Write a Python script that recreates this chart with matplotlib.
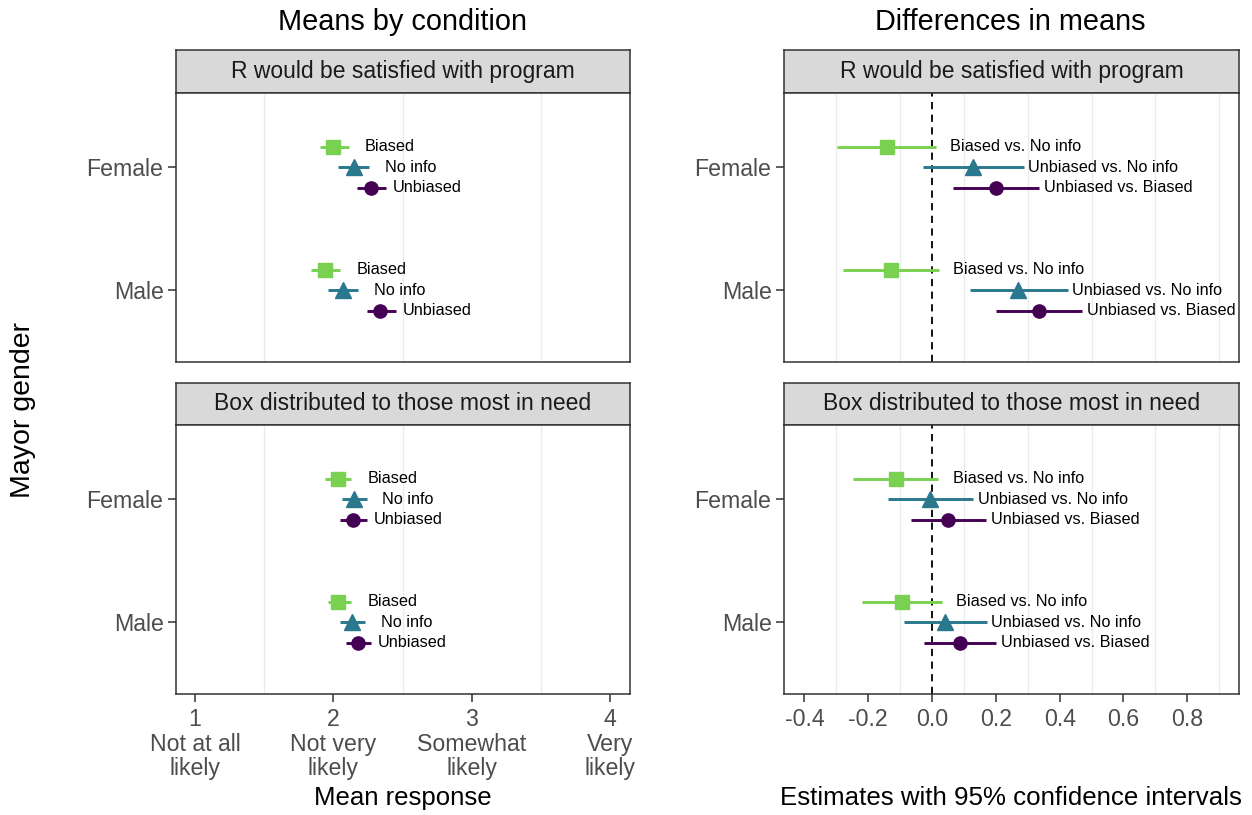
import matplotlib
matplotlib.use("Agg")
import matplotlib.pyplot as plt
import numpy as np

plt.rcParams['font.family'] = ['Liberation Sans', 'DejaVu Sans']

# categories
conditions = ["Biased", "No info", "Unbiased"]
contrasts = ["Biased vs. No info", "Unbiased vs. No info", "Unbiased vs. Biased"]
genders = ["Female", "Male"]
outcomes = ["R would be satisfied with program", "Box distributed to those most in need"]
colors = ["#7AD151", "#2A788E", "#440154"]
markers = ["s", "^", "o"]

# means by condition, rows = Female, Male
sat_mean = [[2.00, 2.147, 2.275], [1.94, 2.07, 2.34]]
sat_lo = [[1.90, 2.03, 2.17], [1.84, 1.96, 2.24]]
sat_hi = [[2.11, 2.26, 2.38], [2.05, 2.18, 2.45]]
box_mean = [[2.034, 2.15, 2.145], [2.036, 2.135, 2.177]]
box_lo = [[1.94, 2.06, 2.05], [1.96, 2.05, 2.09]]
box_hi = [[2.13, 2.24, 2.24], [2.125, 2.23, 2.27]]

# differences in means
sat_est = [[-0.142, 0.128, 0.2015], [-0.128, 0.27, 0.335]]
sat_est_lo = [[-0.297, -0.029, 0.066], [-0.278, 0.12, 0.2015]]
sat_est_hi = [[0.013, 0.287, 0.335], [0.022, 0.425, 0.469]]
box_est = [[-0.114, -0.006, 0.051], [-0.094, 0.040, 0.088]]
box_est_lo = [[-0.248, -0.139, -0.066], [-0.218, -0.088, -0.026]]
box_est_hi = [[0.02, 0.128, 0.169], [0.031, 0.171, 0.20]]

left_ticks = [1, 2, 3, 4]
left_ticklabels = ["1\nNot at all\nlikely", "2\nNot very\nlikely", "3\nSomewhat\nlikely", "4\nVery\nlikely"]
right_ticks = [-0.4, -0.2, 0.0, 0.2, 0.4, 0.6, 0.8]

W, H = 1252, 815
fig = plt.figure(figsize=(W / 100, H / 100), dpi=100)

DARK = "#333333"
TICKC = "#4D4D4D"
gender_y = [2, 1]
dodge = [0.167, 0, -0.167]


def px_axes(x0, y0, x1, y1):
    # pixel box (top-left origin) -> figure axes
    return fig.add_axes([x0 / W, 1 - y1 / H, (x1 - x0) / W, (y1 - y0) / H])


def add_strip(x0, x1, y0, y1, text):
    s = px_axes(x0, y0, x1, y1)
    s.set_facecolor("#D9D9D9")
    s.set_xticks([])
    s.set_yticks([])
    for sp in s.spines.values():
        sp.set_color(DARK)
        sp.set_linewidth(1.1)
    s.text(0.5, 0.5, text, ha="center", va="center", fontsize=16.5, color="#1A1A1A",
           transform=s.transAxes)


def draw_panel(ax, est, lo, hi, labels, xlim, minor, label_off, bottom, ticks, ticklabels):
    ax.set_xlim(*xlim)
    ax.set_ylim(0.415, 2.605)
    for m in minor:
        ax.axvline(m, color="#EBEBEB", lw=1.0, zorder=0)
    for g in range(2):
        for k in range(3):
            y = gender_y[g] + dodge[k]
            ax.hlines(y, lo[g][k], hi[g][k], color=colors[k], lw=2.1, zorder=2)
            ax.plot(est[g][k], y, marker=markers[k], color=colors[k],
                    markersize=11 if markers[k] == "^" else 9.5, zorder=3, lw=0)
            ax.text(hi[g][k] + label_off, y, labels[k], ha="center", va="center",
                    fontsize=11.7, color="black")
    ax.set_yticks(gender_y)
    ax.set_yticklabels(genders)
    ax.tick_params(axis="y", length=6, width=1.1, color=DARK, labelcolor=TICKC,
                   labelsize=16.7, pad=3)
    if bottom:
        ax.set_xticks(ticks)
        ax.set_xticklabels(ticklabels, linespacing=1.1)
        ax.tick_params(axis="x", length=6, width=1.1, color=DARK, labelcolor=TICKC,
                       labelsize=16.7, pad=4)
    else:
        ax.set_xticks([])
    for sp in ax.spines.values():
        sp.set_color(DARK)
        sp.set_linewidth(1.1)


rows = [(50, 93, 362), (383, 425, 694)]
cols = [(176, 630), (784, 1239)]

left_data = [(sat_mean, sat_lo, sat_hi), (box_mean, box_lo, box_hi)]
right_data = [(sat_est, sat_est_lo, sat_est_hi), (box_est, box_est_lo, box_est_hi)]

for r, (st, pt, pb) in enumerate(rows):
    bottom = r == 1
    # left column
    x0, x1 = cols[0]
    add_strip(x0, x1, st, pt, outcomes[r])
    ax = px_axes(x0, pt, x1, pb)
    draw_panel(ax, *left_data[r], conditions, (0.862, 4.145), [1.5, 2.5, 3.5],
               0.30, bottom, left_ticks, left_ticklabels)
    # right column
    x0, x1 = cols[1]
    add_strip(x0, x1, st, pt, outcomes[r])
    ax = px_axes(x0, pt, x1, pb)
    ax.axvline(0, color="black", lw=1.3, ls=(0, (4, 3)), zorder=1)
    draw_panel(ax, *right_data[r], contrasts, (-0.464, 0.962),
               [-0.3, -0.1, 0.1, 0.3, 0.5, 0.7, 0.9], 0.25, bottom,
               right_ticks, ["%.1f" % t for t in right_ticks])

fig.text(403 / W, 1 - 29.5 / H, "Means by condition", ha="center", va="baseline", fontsize=20.8)
fig.text(1010 / W, 1 - 29.5 / H, "Differences in means", ha="center", va="baseline", fontsize=20.8)
fig.text(403 / W, 1 - 798 / H, "Mean response", ha="center", va="center", fontsize=18.5)
fig.text(1011 / W, 1 - 798 / H, "Estimates with 95% confidence intervals", ha="center",
         va="center", fontsize=18.6)
fig.text(23 / W, 1 - 410 / H, "Mayor gender", ha="center", va="center", fontsize=20.5,
         rotation=90)

fig.savefig("out.png", dpi=100)
